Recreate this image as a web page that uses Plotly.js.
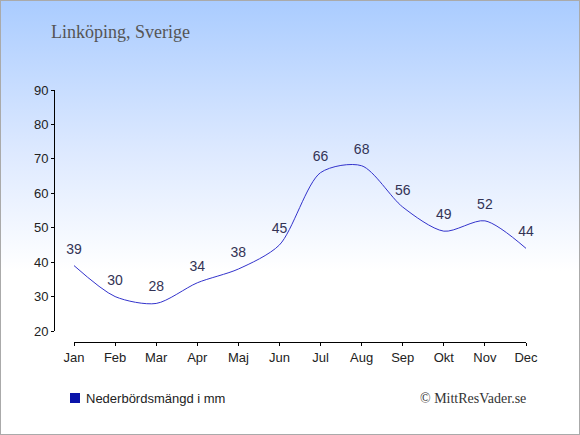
<!DOCTYPE html>
<html>
<head>
<meta charset="utf-8">
<script src="https://cdn.plot.ly/plotly-3.0.1.min.js"></script>
<style>
html,body{margin:0;padding:0;}
#wrap{position:relative;width:578px;height:433px;border:1px solid #aaaaaa;
background:linear-gradient(to bottom,#aaccff 0px,#dde9ff 150px,#ffffff 270px,#ffffff 433px);}
#chart{width:578px;height:433px;}
</style>
</head>
<body>
<div id="wrap"><div id="chart"></div></div>
<script>
var months = ["Jan","Feb","Mar","Apr","Maj","Jun","Jul","Aug","Sep","Okt","Nov","Dec"];
var precipitation = [39,30,28,34,38,45,66,68,56,49,52,44];
var seriesName = "Nederbördsmängd i mm";
var chartTitle = "Linköping, Sverige";
var credit = "© MittResVader.se";

var W = 578, H = 433;
var L = 53, R = 53, T = 89, B = 92;
var pw = W - L - R, ph = H - T - B;

var traces = [
  {
    x: months.map(function(m,i){return i;}),
    y: precipitation,
    name: seriesName,
    mode: "lines+markers+text",
    line: {color: "#3333cc", width: 1, shape: "spline", smoothing: 0.8},
    marker: {size: 12, opacity: 0, color: "#0000aa"},
    text: precipitation.map(String),
    textposition: "top center",
    textfont: {family: "Liberation Sans, Arial, sans-serif", size: 14, color: "#333355"},
    cliponaxis: false,
    showlegend: false,
    hoverinfo: "x+y"
  }
];

var legY = -(397 - (T+ph))/ph;

var layout = {
  width: W, height: H,
  paper_bgcolor: "rgba(0,0,0,0)",
  plot_bgcolor: "rgba(0,0,0,0)",
  margin: {l: L, r: R, t: T, b: B, pad: 0},
  title: {
    text: chartTitle,
    x: 50/W, xanchor: "left",
    y: 1 - 31/H, yanchor: "middle",
    font: {family: "Liberation Serif, Georgia, serif", size: 18, color: "#555555"}
  },
  xaxis: {
    domain: [20/pw, 1],
    range: [0, 11],
    tickmode: "array",
    tickvals: months.map(function(m,i){return i;}),
    ticktext: months,
    showgrid: false, zeroline: false,
    showline: true, linecolor: "#000", linewidth: 1,
    ticks: "outside", ticklen: 3, tickcolor: "#000",
    anchor: "free", position: 0,
    tickfont: {family: "Liberation Sans, Arial, sans-serif", size: 13, color: "#222"}
  },
  yaxis: {
    domain: [11/ph, 1],
    range: [20, 90],
    tickvals: [20,30,40,50,60,70,80,90],
    showgrid: false, zeroline: false,
    showline: true, linecolor: "#000", linewidth: 1,
    ticks: "outside", ticklen: 3, tickcolor: "#000",
    anchor: "free", position: 0,
    tickfont: {family: "Liberation Sans, Arial, sans-serif", size: 13, color: "#222"}
  },
  showlegend: false,
  annotations: [
    {
      text: " ", showarrow: false,
      xref: "paper", yref: "paper",
      x: (69 - L)/pw, xanchor: "left",
      y: legY, yanchor: "middle",
      width: 10, height: 10, borderpad: 0, borderwidth: 0,
      bgcolor: "#0a14aa",
      font: {size: 6}
    },
    {
      text: seriesName,
      showarrow: false,
      xref: "paper", yref: "paper",
      x: (83 - L)/pw, xanchor: "left",
      y: legY, yanchor: "middle",
      font: {family: "Liberation Sans, Arial, sans-serif", size: 13, color: "#222"}
    },
    {
      text: credit, showarrow: false,
      xref: "paper", yref: "paper",
      x: (527 - L)/pw, xanchor: "right",
      y: legY, yanchor: "middle",
      font: {family: "Liberation Serif, Georgia, serif", size: 14, color: "#333"}
    }
  ]
};

Plotly.newPlot("chart", traces, layout, {displayModeBar: false, staticPlot: true});
</script>
</body>
</html>
